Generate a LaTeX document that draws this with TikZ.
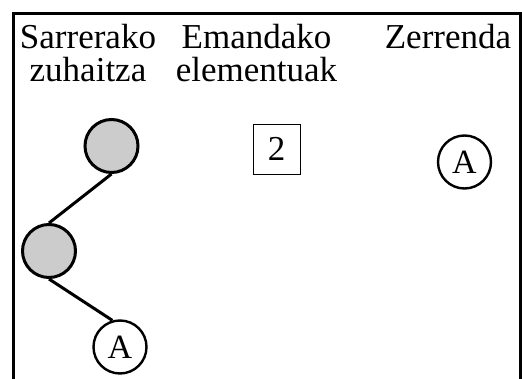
\documentclass[tikz,border=0pt]{standalone}
\usepackage{fontspec}
\setmainfont{Liberation Serif}
\tikzset{
  lbl/.style={align=center, inner sep=0pt, font=\fontsize{35}{33}\selectfont},
  graynode/.style={circle, draw, line width=3pt, fill=black!20, minimum size=53pt, inner sep=0pt},
  leafnode/.style={circle, draw, line width=2.4pt, minimum size=53pt, inner sep=0pt, font=\fontsize{34}{34}\selectfont},
  elembox/.style={draw, line width=0.8pt, minimum width=47pt, minimum height=50pt, inner sep=0pt, font=\fontsize{35}{35}\selectfont},
  edge/.style={line width=3pt}
}
\begin{document}
\begin{tikzpicture}[x=1pt,y=-1pt]
\useasboundingbox (0,0) rectangle (522,379);
\draw[line width=3pt] (13.5,379) -- (13.5,14) -- (520.5,14) -- (520.5,379);
\node[lbl, anchor=base] (t1) at (88,82) {Sarrerako\\zuhaitza};
\node[lbl, anchor=base] (t2) at (256.5,82) {Emandako\\elementuak};
\node[lbl, anchor=base] (t3) at (448,49) {Zerrenda};
\node[graynode] (n1) at (111.5,146) {};
\node[graynode] (n2) at (49,251) {};
\node[leafnode] (a1) at (120,347) {A};
\node[elembox] (b2) at (276.5,149) {2};
\node[leafnode] (a2) at (464.5,162) {A};
\draw[edge] (n1.south) -- (n2.north);
\draw[edge] (n2.south) -- (a1.106);
\end{tikzpicture}
\end{document}
